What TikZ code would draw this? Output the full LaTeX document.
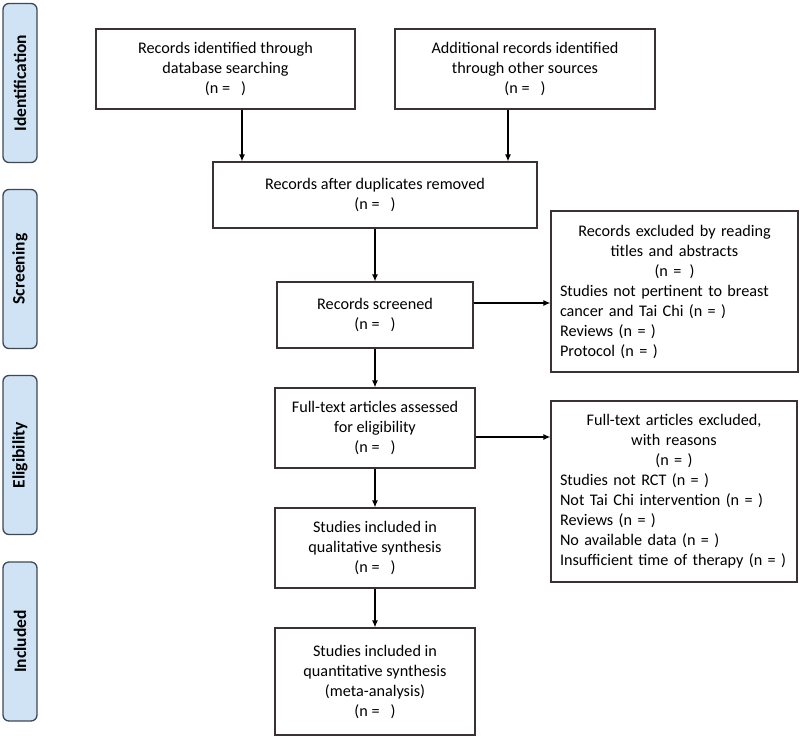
\documentclass[tikz,border=0pt]{standalone}
\usepackage{fontspec}
\setmainfont{Carlito}
\usetikzlibrary{arrows.meta}

\definecolor{stagefill}{RGB}{207,227,244}
\definecolor{stageline}{RGB}{62,72,84}
\definecolor{boxline}{RGB}{58,50,50}

\begin{document}
\begin{tikzpicture}[x = 1pt, y = 1pt, font = \fontsize{16.2}{20}\selectfont, stage/.style = {draw = stageline, line width = 1.3pt, fill = stagefill, rounded corners = 6pt, rotate = 90, minimum width = 159pt, minimum height = 34pt, inner sep = 0pt, font = \fontsize{17.5}{20}\selectfont\bfseries}, box/.style = {draw = boxline, line width = 1.2pt, align = center, inner sep = 0pt}, listbox/.style = {draw = boxline, line width = 1.2pt, inner xsep = 9pt, inner ysep = 0pt}, arr/.style = {-{Latex[length = 7pt, width = 6pt]}, line width = 1.2pt}]
    \useasboundingbox (0, 0) rectangle (800, -737);
    % stages
    \node[stage] (identification) at (20, -83) {Identification};
    \node[stage] (screening) at (20, -269) {Screening};
    \node[stage] (eligibility) at (20, -455) {Eligibility};
    \node[stage] (included) at (20, -641.5) {Included};
    % flow
    \node[box, minimum width = 259pt, minimum height = 80pt] (database) at (225.5, -69) {Records identified through\\database searching\\(n = \ \ )};
    \node[box, minimum width = 260pt, minimum height = 80pt] (other) at (525, -69) {Additional records identified\\through other sources\\(n = \ \ )};
    \node[box, minimum width = 324pt, minimum height = 66pt] (duplicates) at (375, -195) {Records after duplicates removed\\(n = \ \ )};
    \node[box, minimum width = 196pt, minimum height = 66pt] (screened) at (375, -315) {Records screened\\(n = \ \ )};
    \node[listbox, text width = 229pt, minimum height = 161pt] (excludedtitles) at (674.5, -291.5) {{\centering Records excluded by reading\\titles and abstracts\\(n = \,)\par}\raggedright Studies not pertinent to breast\\cancer and Tai Chi (n = )\\Reviews (n = )\\Protocol (n = )};
    \node[box, minimum width = 200pt, minimum height = 80pt] (fulltext) at (375, -428) {Full-text articles assessed\\for eligibility\\(n = \ \ )};
    \node[listbox, text width = 228pt, minimum height = 181pt] (excludedfull) at (674, -491.5) {{\centering Full-text articles excluded,\\with reasons\\(n = )\par}\raggedright Studies not RCT (n = )\\Not Tai Chi intervention (n = )\\Reviews (n = )\\No available data (n = )\\Insufficient time of therapy (n = )};
    \node[box, minimum width = 200pt, minimum height = 80pt] (qualitative) at (375, -548) {Studies included in\\qualitative synthesis\\(n = \ \ )};
    \node[box, minimum width = 200pt, minimum height = 107pt] (quantitative) at (375, -681.5) {Studies included in\\quantitative synthesis\\(meta-analysis)\\(n = \ \ )};
    % arrows
    \draw[arr] ([xshift = 16.5pt]database.south) -- ([xshift = 16.5pt]database.south |- duplicates.north);
    \draw[arr] ([xshift = -17pt]other.south) -- ([xshift = -17pt]other.south |- duplicates.north);
    \draw[arr] (duplicates.south) -- (duplicates.south |- screened.north);
    \draw[arr] ([yshift = 12pt]screened.east) -- ([yshift = 12pt]screened.east -| excludedtitles.west);
    \draw[arr] (screened.south) -- (screened.south |- fulltext.north);
    \draw[arr] ([yshift = -9pt]fulltext.east) -- ([yshift = -9pt]fulltext.east -| excludedfull.west);
    \draw[arr] (fulltext.south) -- (qualitative.north);
    \draw[arr] (qualitative.south) -- (quantitative.north);
\end{tikzpicture}
\end{document}
